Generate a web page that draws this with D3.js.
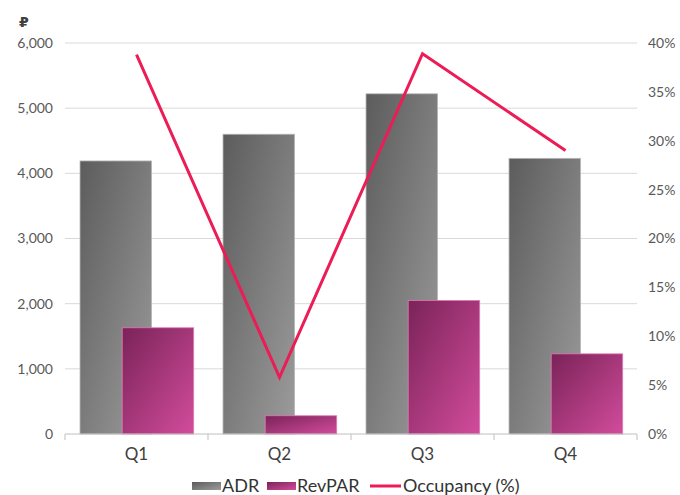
<!DOCTYPE html>
<html>
<head>
<meta charset="utf-8">
<script src="https://cdn.jsdelivr.net/npm/d3@7"></script>
<style>
  body { margin: 0; background: #fff; }
  text { font-family: "Century Gothic", "Lato", "DejaVu Sans", sans-serif; }
</style>
</head>
<body>
<div id="chart"></div>
<script>
// quarterly hotel numbers
var quarters = ["Q1", "Q2", "Q3", "Q4"];
var adr = [4190, 4600, 5220, 4230];
var revpar = [1630, 280, 2050, 1230];
var occupancy = [38.8, 5.8, 38.9, 29.0];
var leftTicks = [0, 1000, 2000, 3000, 4000, 5000, 6000];
var rightTicks = [0, 5, 10, 15, 20, 25, 30, 35, 40];

var svgWidth = 680;
var svgHeight = 495;
var margin = { top: 43, right: 43, bottom: 61, left: 65 };
var width = svgWidth - margin.left - margin.right;
var height = svgHeight - margin.top - margin.bottom;

var svg = d3.select("#chart").append("svg")
  .attr("width", svgWidth)
  .attr("height", svgHeight);

// gradients for the bars
var defs = svg.append("defs");
function grad(id, c1, c2) {
  var g = defs.append("linearGradient").attr("id", id)
    .attr("x1", "0%").attr("y1", "0%").attr("x2", "100%").attr("y2", "100%");
  g.append("stop").attr("offset", "0%").attr("stop-color", c1);
  g.append("stop").attr("offset", "100%").attr("stop-color", c2);
}
grad("gAdr", "#5c5c5c", "#9c9c9c");
grad("gRev", "#7a2358", "#d24c9c");

var chartGroup = svg.append("g")
  .attr("transform", `translate(${margin.left}, ${margin.top})`);

var x = d3.scaleBand().domain(quarters).range([0, width]);
var y = d3.scaleLinear().domain([0, 6000]).range([height, 0]);
var y2 = d3.scaleLinear().domain([0, 40]).range([height, 0]);

// gridlines
chartGroup.selectAll(".grid").data(leftTicks.slice(1)).enter()
  .append("line")
  .attr("x1", 0).attr("x2", width)
  .attr("y1", d => y(d)).attr("y2", d => y(d))
  .attr("stroke", "#d9d9d9").attr("stroke-width", 1);

// left axis labels
var fmt = d3.format(",");
chartGroup.append("g")
  .call(d3.axisLeft(y).tickValues(leftTicks).tickFormat(fmt).tickSize(0).tickPadding(12))
  .call(g => g.select(".domain").remove())
  .selectAll("text")
  .attr("font-size", 14).attr("fill", "#595959");

// right axis labels
chartGroup.append("g")
  .attr("transform", `translate(${width}, 0)`)
  .call(d3.axisRight(y2).tickValues(rightTicks).tickFormat(d => d + "%").tickSize(0).tickPadding(11))
  .call(g => g.select(".domain").remove())
  .selectAll("text")
  .attr("font-size", 14).attr("fill", "#595959");

// currency sign
svg.append("text")
  .attr("x", 19).attr("y", 27)
  .attr("font-size", 14).attr("font-weight", "bold").attr("fill", "#404040")
  .text("₽");

// bars: two overlapping bars per quarter
var bw = x.bandwidth() * 0.5;
var off = x.bandwidth() * 0.295;
var left0 = x.bandwidth() * 0.105;

chartGroup.selectAll(".adr").data(quarters).enter()
  .append("rect")
  .attr("x", d => x(d) + left0)
  .attr("y", (d, i) => y(adr[i]))
  .attr("width", bw)
  .attr("height", (d, i) => height - y(adr[i]))
  .attr("fill", "url(#gAdr)")
  .attr("stroke", "#b5b5b5").attr("stroke-width", 0.8);

chartGroup.selectAll(".rev").data(quarters).enter()
  .append("rect")
  .attr("x", d => x(d) + left0 + off)
  .attr("y", (d, i) => y(revpar[i]))
  .attr("width", bw)
  .attr("height", (d, i) => height - y(revpar[i]))
  .attr("fill", "url(#gRev)")
  .attr("stroke", "#e07ab5").attr("stroke-width", 0.8);

// bottom axis
var xAxis = chartGroup.append("g")
  .attr("transform", `translate(0, ${height})`);
xAxis.append("line")
  .attr("x1", 0).attr("x2", width)
  .attr("stroke", "#bfbfbf");
xAxis.selectAll(".tk").data(d3.range(quarters.length + 1)).enter()
  .append("line")
  .attr("x1", d => d * x.step()).attr("x2", d => d * x.step())
  .attr("y1", 0).attr("y2", 6)
  .attr("stroke", "#bfbfbf");
xAxis.selectAll(".lbl").data(quarters).enter()
  .append("text")
  .attr("x", d => x(d) + x.bandwidth() / 2)
  .attr("y", 26)
  .attr("text-anchor", "middle")
  .attr("font-size", 17).attr("fill", "#404040")
  .text(d => d);

// occupancy line
var line = d3.line()
  .x((d, i) => x(quarters[i]) + x.bandwidth() / 2)
  .y(d => y2(d));
chartGroup.append("path")
  .datum(occupancy)
  .attr("d", line)
  .attr("fill", "none")
  .attr("stroke", "#eb1c56")
  .attr("stroke-width", 3)
  .attr("stroke-linejoin", "miter");

// legend
var legend = svg.append("g").attr("transform", "translate(0, 486)");
legend.append("rect").attr("x", 192).attr("y", -4).attr("width", 29).attr("height", 8).attr("fill", "url(#gAdr)");
legend.append("text").attr("x", 222).attr("y", 6).attr("font-size", 18).attr("fill", "#333").text("ADR");
legend.append("rect").attr("x", 267).attr("y", -4).attr("width", 29).attr("height", 8).attr("fill", "url(#gRev)");
legend.append("text").attr("x", 297).attr("y", 6).attr("font-size", 18).attr("fill", "#333").text("RevPAR");
legend.append("line").attr("x1", 370).attr("x2", 401).attr("y1", 0).attr("y2", 0).attr("stroke", "#eb1c56").attr("stroke-width", 3);
legend.append("text").attr("x", 403).attr("y", 6).attr("font-size", 18).attr("fill", "#333").text("Occupancy (%)");
</script>
</body>
</html>
